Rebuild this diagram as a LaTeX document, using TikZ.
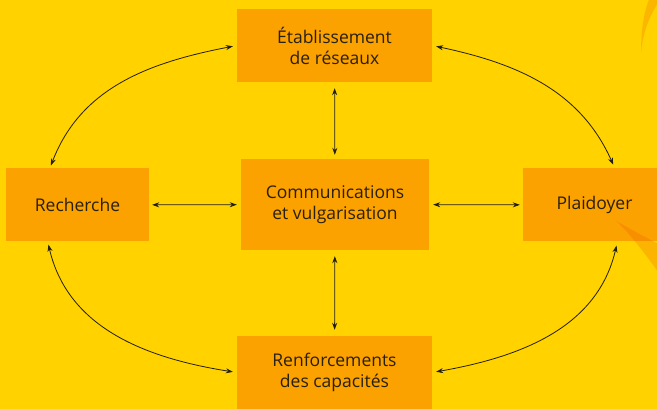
\documentclass[tikz,border=0pt]{standalone}
\usepackage{fontspec}
\setmainfont{Open Sans}
\usetikzlibrary{arrows.meta}

\definecolor{fond}{HTML}{FFD200}
\definecolor{bloc}{HTML}{FBA100}
\definecolor{texte}{HTML}{2A2008}
\definecolor{trait}{HTML}{231F10}
\definecolor{vague}{RGB}{240,91,0}

\begin{document}
\begin{tikzpicture}[x=1pt, y=1pt,
		boite/.style={fill=bloc, text=texte, align=center, inner sep=0pt, minimum height=73pt, font=\fontsize{17.5}{21}\selectfont},
		fleche/.style={draw=trait, line width=0.8pt, shorten >=4pt, shorten <=4pt, {Stealth[length=7pt,width=5pt]}-{Stealth[length=7pt,width=5pt]}}]
	\useasboundingbox (0,0) rectangle (657,409);
	\fill[fond] (0,0) rectangle (657,409);

	\node[boite, minimum width=195pt] at (334.5, 363.5) (reseaux) {Établissement\\de réseaux};
	\node[boite, minimum width=143pt] at (77.5, 204) (recherche) {Recherche};
	\node[boite, minimum width=188pt, minimum height=91pt] at (335, 204.5) (comm) {Communications\\et vulgarisation};
	\node[boite, minimum width=143pt] at (594.5, 204) (plaidoyer) {Plaidoyer};
	\node[boite, minimum width=195pt] at (334.5, 36.5) (capacites) {Renforcements\\des capacités};

	% swooshes in the corner
	\fill[vague, opacity=0.22] (641,356) .. controls (641,380) and (644,398) .. (650,412) -- (662,412) .. controls (650,395) and (643,378) .. (641,356);
	\fill[vague, opacity=0.25] (616,188) .. controls (630,180) and (645,172) .. (662,163) -- (662,132) .. controls (645,155) and (630,176) .. (616,188);

	\path
	(reseaux) edge[fleche, shorten <=6pt] (comm)
	(comm) edge[fleche, shorten >=6pt, shorten <=6pt] (capacites)
	(recherche) edge[fleche, shorten <=3pt] (comm)
	(comm) edge[fleche, shorten >=3pt] (plaidoyer)
	(recherche.127) edge[fleche, shorten <=3pt, out=69, in=191] (reseaux.west)
	(reseaux.east) edge[fleche, out=-12, in=114] (plaidoyer.61)
	(recherche.231) edge[fleche, shorten <=3pt, out=-77, in=171] (capacites.west)
	(capacites.east) edge[fleche, out=10, in=-103] (plaidoyer.-58);
\end{tikzpicture}
\end{document}
